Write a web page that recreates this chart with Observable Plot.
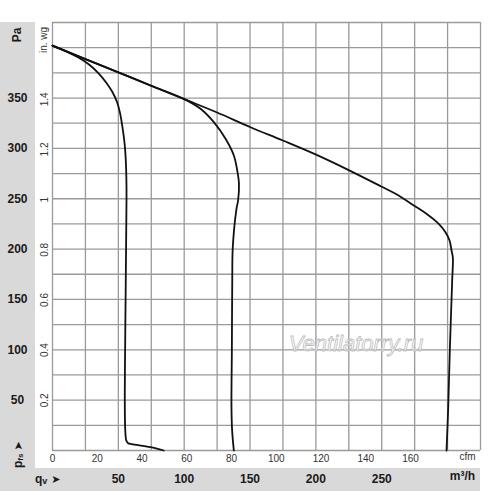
<!DOCTYPE html>
<html><head><meta charset="utf-8">
<script src="https://cdn.jsdelivr.net/npm/d3@7"></script>
<script src="https://cdn.jsdelivr.net/npm/@observablehq/plot@0.6"></script>
<style>body{margin:0;background:#fff;} svg{display:block}</style>
</head><body><div id="chart"></div>
<script>
// Grid (m³/h and Pa)
const flowGrid = [0,25,50,75,100,125,150,175,200,225,250,275,300,325];
const pressGrid = [0,25,50,75,100,125,150,175,200,225,250,275,300,325,350,375,400,425];
// Tick labels
const paLabels = [50,100,150,200,250,300,350];
const inwgLabels = [0.2,0.4,0.6,0.8,1,1.2,1.4];
const m3hLabels = [50,100,150,200,250];
const cfmLabels = [0,20,40,60,80,100,120,140,160];
// Curves: [m³/h, Pa]
const curveLow = [[0,402],[10,396.5],[20,390],[28,383],[35,374.5],[41,365],[45.5,356],[49,346],[51.3,335],[53,322],[54.3,310],[55.2,298],[55.9,280],[56.2,260],[56,220],[55.5,150],[55,80],[54.9,49.7],[55.1,25],[55.4,16.6],[55.9,10.5],[57.2,7.5],[60,6.3],[64.3,5.5],[74.4,3.3],[84.5,0]];
const curveMid = [[0,402],[25,388.7],[50,375.5],[75,362.2],[99.7,349.2],[112.4,339.3],[122.5,326],[131.4,309.5],[137.7,292.9],[140.7,274.8],[141.6,265],[140.9,248],[139.7,240],[136.9,201.9],[136.5,170],[136.2,100],[135.9,43],[136.4,20],[137.7,0]];
const curveHigh = [[0,402],[25,388.7],[50,375.5],[74.6,362.4],[100,348.9],[125,335.6],[150.4,321],[174.9,307.8],[199.7,294],[224.5,278.7],[249.6,262.2],[260.5,254.9],[274.4,243.3],[285.7,233.4],[293.3,225.1],[298.4,216.8],[301.5,208.5],[303,198.6],[304,191.6],[303.5,168.8],[301.7,99.3],[300.5,43],[299.2,0]];

const PA_PER_INWG = 249.09;
const M3H_PER_CFM = 1.699;

const rows = [
  ...curveLow.map(([q,p]) => ({s:"low", q, p})),
  ...curveMid.map(([q,p]) => ({s:"mid", q, p})),
  ...curveHigh.map(([q,p]) => ({s:"high", q, p}))
];

const font = "'Liberation Sans', Arial, sans-serif";

const chart = Plot.plot({
  width: 500, height: 491,
  marginLeft: 52, marginRight: 20, marginTop: 22, marginBottom: 41,
  x: {domain: [0, 325]},
  y: {domain: [0, 425]},
  style: {fontFamily: font, background: "white", overflow: "visible"},
  marks: [
    Plot.gridX(flowGrid, {stroke: "#9a9a9a", strokeOpacity: 1, strokeWidth: 1.3}),
    Plot.gridY(pressGrid, {stroke: "#9a9a9a", strokeOpacity: 1, strokeWidth: 1.3}),
    Plot.axisY(paLabels, {anchor: "left", tickSize: 0, tickPadding: 35, textAnchor: "middle",
      fontWeight: "bold", fontSize: 12, fill: "#1a1a1a", label: null}),
    Plot.axisY(inwgLabels.map(v => v * PA_PER_INWG), {anchor: "left", tickSize: 0, tickPadding: 5,
      tickRotate: -90, textAnchor: "middle", lineAnchor: "bottom",
      tickFormat: d => String(Math.round(d / PA_PER_INWG * 10) / 10),
      fontSize: 10, fill: "#333", label: null}),
    Plot.axisX(cfmLabels.map(v => v * M3H_PER_CFM), {anchor: "bottom", tickSize: 0, tickPadding: 4,
      tickFormat: d => String(Math.round(d / M3H_PER_CFM)), fontSize: 10, fill: "#333", label: null}),
    Plot.axisX(m3hLabels, {anchor: "bottom", tickSize: 0, tickPadding: 24,
      fontWeight: "bold", fontSize: 12, fill: "#1a1a1a", label: null}),
    Plot.text(["cfm"], {frameAnchor: "bottom-right", dx: -13, dy: 9, fontSize: 10, fill: "#333", textAnchor: "middle"}),
    Plot.text(["m³/h"], {frameAnchor: "bottom-right", dx: -18, dy: 29, fontSize: 12, fontWeight: "bold", fill: "#1a1a1a", textAnchor: "middle"}),
    Plot.line(rows, {x: "q", y: "p", z: "s", stroke: "#111", strokeWidth: 1.8, curve: "catmull-rom"})
  ]
});

const svg = d3.select(chart);
// gray label bands
const bg = svg.insert("g", ":first-child");
bg.append("rect").attr("x", 0).attr("y", 22).attr("width", 35).attr("height", 469).attr("fill", "#d9d9d9");
bg.append("rect").attr("x", 0).attr("y", 468).attr("width", 480).attr("height", 23).attr("fill", "#d9d9d9");

const ann = svg.append("g").attr("font-family", font);
ann.append("text").attr("transform", "translate(21,35) rotate(-90)").attr("text-anchor", "middle")
  .attr("font-size", 12).attr("font-weight", "bold").attr("fill", "#1a1a1a").text("Pa");
ann.append("text").attr("transform", "translate(46.5,40) rotate(-90)").attr("text-anchor", "middle")
  .attr("font-size", 10).attr("fill", "#333").text("in. wg");
const pfs = ann.append("text").attr("transform", "translate(21.5,468) rotate(-90)").attr("text-anchor", "start")
  .attr("font-size", 12).attr("font-weight", "bold").attr("fill", "#1a1a1a");
pfs.append("tspan").text("p");
pfs.append("tspan").attr("font-size", 8).attr("dy", 1).text("fs");
pfs.append("tspan").attr("dy", -1).attr("dx", 3).attr("font-family", "DejaVu Sans").attr("font-size", 11).text("➤");
const qv = ann.append("text").attr("transform", "translate(35,483)").attr("text-anchor", "start")
  .attr("font-size", 12).attr("font-weight", "bold").attr("fill", "#1a1a1a");
qv.append("tspan").text("q");
qv.append("tspan").attr("font-size", 9).attr("dy", 1).text("v");
qv.append("tspan").attr("dy", -1).attr("dx", 4).attr("font-family", "DejaVu Sans").attr("font-size", 11).text("➤");
// watermark
ann.append("text").attr("x", 356).attr("y", 351).attr("text-anchor", "middle")
  .attr("font-size", 22).attr("font-style", "italic").attr("fill", "#ffffff").attr("fill-opacity", 0.75)
  .attr("stroke", "#bdbdbd").attr("stroke-width", 0.8).text("Ventilatorry.ru");

document.getElementById("chart").appendChild(chart);
</script></body></html>
